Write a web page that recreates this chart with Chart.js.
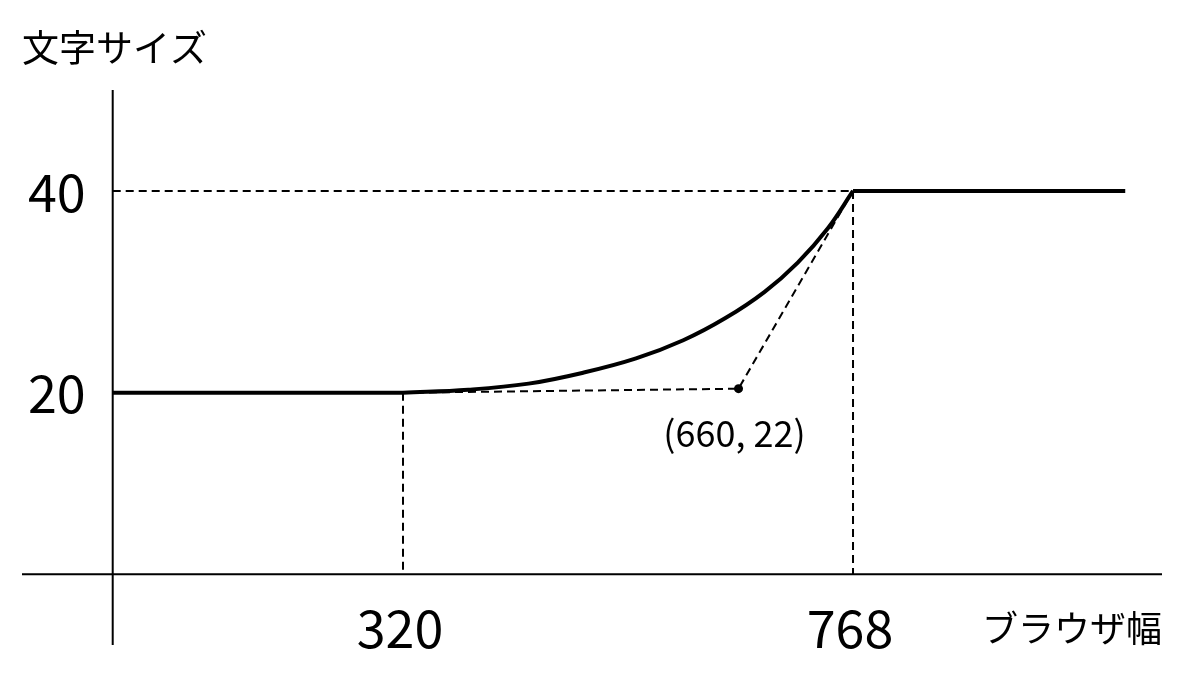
<!DOCTYPE html>
<html>
<head>
<meta charset="utf-8">
<script src="https://cdn.jsdelivr.net/npm/chart.js@4/dist/chart.umd.min.js"></script>
<style>
  html, body { margin: 0; padding: 0; background: #fff; }
  canvas { display: block; }
</style>
</head>
<body>
<canvas id="myChart" width="1200" height="686"></canvas>
<script>
// tick values and labels
const xTicks = [320, 768];
const xTickLabels = ['320', '768'];
const yTicks = [20, 40];
const yTickLabels = ['20', '40'];
const yTitle = '文字サイズ';
const xTitle = 'ブラウザ幅';

// where the two axes cross (in data units)
const yAxisAtX = 31;
const xAxisAtY = 2;

// flat parts of the font size curve
const leftFlatX = [31, 320];
const leftFlatY = [20, 20];
const rightFlatX = [768, 1039];
const rightFlatY = [40, 40];

// curved part
const curveX = [320, 385, 445, 500, 552, 599, 641, 680, 713, 743, 768];
const curveY = [20, 20.3, 20.9, 22.0, 23.4, 25.2, 27.4, 30.0, 32.9, 36.3, 40];

// control point (as drawn) and its label
const controlX = 654;
const controlY = 20.4;
const controlLabel = '(660, 22)';

const FONT = '"Noto Sans CJK JP", "Noto Sans", sans-serif';

function pts(xs, ys) {
  return xs.map((x, i) => ({ x: x, y: ys[i] }));
}

const thick = {
  borderColor: '#000',
  borderWidth: 4,
  pointRadius: 0,
  showLine: true,
  fill: false
};
const dashed = {
  borderColor: '#000',
  borderWidth: 2,
  borderDash: [8, 5],
  pointRadius: 0,
  showLine: true,
  fill: false,
  tension: 0
};

const datasets = [
  Object.assign({ data: pts(leftFlatX, leftFlatY), tension: 0 }, thick),
  Object.assign({ data: pts(curveX, curveY), tension: 0.4 }, thick),
  Object.assign({ data: pts(rightFlatX, rightFlatY), tension: 0 }, thick),
  // guide at 40
  Object.assign({ data: [{ x: yAxisAtX, y: yTicks[1] }, { x: xTicks[1], y: yTicks[1] }] }, dashed),
  // drop lines to the x axis
  Object.assign({ data: [{ x: xTicks[0], y: yTicks[0] }, { x: xTicks[0], y: xAxisAtY }] }, dashed),
  Object.assign({ data: [{ x: xTicks[1], y: yTicks[1] }, { x: xTicks[1], y: xAxisAtY }] }, dashed),
  // control polygon with the control point dot
  Object.assign({}, dashed, {
    data: [{ x: xTicks[0], y: yTicks[0] }, { x: controlX, y: controlY }, { x: xTicks[1], y: yTicks[1] }],
    pointRadius: [0, 4.5, 0],
    pointBackgroundColor: '#000',
    pointBorderWidth: 0
  })
];

// axes crossing in the plot and all text labels
const axesPlugin = {
  id: 'crossAxes',
  beforeDatasetsDraw(chart) {
    const ctx = chart.ctx;
    const a = chart.chartArea;
    const xs = chart.scales.x, ys = chart.scales.y;
    const px = xs.getPixelForValue(yAxisAtX);
    const py = ys.getPixelForValue(xAxisAtY);
    ctx.save();
    ctx.strokeStyle = '#000';
    ctx.lineWidth = 2;
    ctx.beginPath();
    ctx.moveTo(a.left, py);
    ctx.lineTo(a.right, py);
    ctx.moveTo(px, a.top);
    ctx.lineTo(px, a.bottom);
    ctx.stroke();
    ctx.restore();
  },
  afterDraw(chart) {
    const ctx = chart.ctx;
    const a = chart.chartArea;
    const xs = chart.scales.x, ys = chart.scales.y;
    const px = xs.getPixelForValue(yAxisAtX);
    const py = ys.getPixelForValue(xAxisAtY);
    ctx.save();
    ctx.fillStyle = '#000';

    ctx.font = '52px ' + FONT;
    ctx.textAlign = 'right';
    ctx.textBaseline = 'middle';
    yTicks.forEach((v, i) => ctx.fillText(yTickLabels[i], px - 27, ys.getPixelForValue(v) + 1));

    ctx.textAlign = 'center';
    xTicks.forEach((v, i) => ctx.fillText(xTickLabels[i], xs.getPixelForValue(v) - 3, py + 54));

    ctx.font = '37px ' + FONT;
    ctx.textAlign = 'left';
    ctx.fillText(yTitle, a.left, 48);

    ctx.font = '36px ' + FONT;
    ctx.textAlign = 'right';
    ctx.fillText(xTitle, a.right, py + 54);

    ctx.textAlign = 'center';
    ctx.fillText(controlLabel, xs.getPixelForValue(controlX) - 4, ys.getPixelForValue(controlY) + 45);
    ctx.restore();
  }
};

const ctx = document.getElementById('myChart').getContext('2d');
const myChart = new Chart(ctx, {
  type: 'scatter',
  data: { datasets: datasets },
  options: {
    responsive: false,
    animation: false,
    layout: { padding: { left: 22, right: 38, top: 90, bottom: 41 } },
    scales: {
      x: { type: 'linear', min: -59.3, max: 1075.6, display: false },
      y: { type: 'linear', min: -5, max: 50, display: false }
    },
    plugins: {
      legend: { display: false },
      tooltip: { enabled: false }
    }
  },
  plugins: [axesPlugin]
});
</script>
</body>
</html>
